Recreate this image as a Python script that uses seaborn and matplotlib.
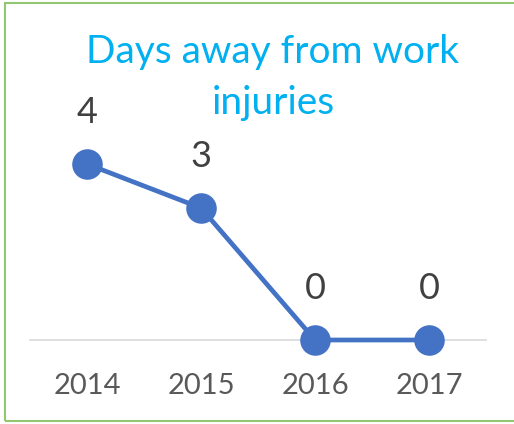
import matplotlib
matplotlib.use("Agg")
import matplotlib.pyplot as plt
import matplotlib.patches as patches
import pandas as pd
import seaborn as sns

# data
years = ["2014", "2015", "2016", "2017"]
injuries = [4, 3, 0, 0]

title_lines = ["Days away from work", "injuries"]
line_color = "#4472C4"
title_color = "#00B0F0"
text_color = "#404040"

sns.set_theme(style="white")
plt.rcParams["font.family"] = ["Lato", "DejaVu Sans"]

df = pd.DataFrame({"year": years, "injuries": injuries})

fig = plt.figure(figsize=(5.14, 4.24), dpi=100)
ax = fig.add_axes([30 / 514, 1 - 340 / 424, 456 / 514, 220 / 424])

sns.lineplot(data=df, x="year", y="injuries", ax=ax, color=line_color,
             linewidth=3.4, marker="o", markersize=22, markeredgewidth=0,
             clip_on=False, zorder=3)

for i, v in enumerate(injuries):
    ax.annotate(str(v), (i, v), xytext=(0, 37), textcoords="offset points",
                ha="center", va="center", fontsize=26, color=text_color)

ax.set_xlim(-0.5, 3.5)
ax.set_ylim(0, 5)
ax.set_xlabel("")
ax.set_ylabel("")
ax.set_yticks([])
ax.tick_params(axis="x", length=0, labelsize=21, colors="#595959", pad=24)
for s in ["top", "left", "right"]:
    ax.spines[s].set_visible(False)
ax.spines["bottom"].set_color("#D9D9D9")
ax.spines["bottom"].set_linewidth(1.2)
ax.spines["bottom"].set_zorder(1)
ax.patch.set_alpha(0)

# title, one text per line so the short second line does not cover the "4"
for k, line in enumerate(title_lines):
    fig.text(273 / 514, 1 - (63 + 51 * k) / 424, line, ha="center", va="baseline",
             fontsize=28, color=title_color)

# chart border
fig.patches.append(patches.Rectangle((5 / 514, 3 / 424), 520 / 514, 418 / 424,
                                     transform=fig.transFigure, fill=False,
                                     edgecolor="#92C66F", linewidth=1.5))

fig.savefig("out.png", dpi=100)
